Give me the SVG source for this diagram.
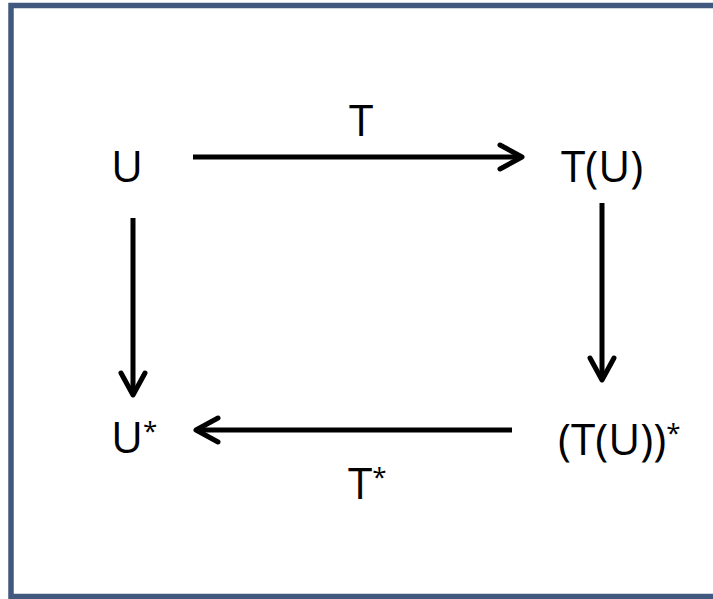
<svg xmlns="http://www.w3.org/2000/svg" width="713" height="599" viewBox="0 0 713 599">
<style>
.lbl{font-family:"Open Sans","Liberation Sans",sans-serif;font-size:44px;fill:#000}
.sup{font-size:26px}
.conn{stroke:#000;stroke-width:5;fill:none}
</style>
<defs>
<marker id="ah" markerUnits="userSpaceOnUse" markerWidth="40" markerHeight="40" refX="0" refY="0" orient="auto" overflow="visible" viewBox="-30 -20 40 40">
<path d="M -22 -12 L 0 0 L -22 12" fill="none" stroke="#000" stroke-width="5" stroke-linejoin="round" stroke-linecap="round"/>
</marker>
</defs>
<rect x="0" y="0" width="713" height="599" fill="#fff"/>
<rect x="11" y="5.5" width="710" height="591" fill="#fff" stroke="#41597f" stroke-width="5.5"/>
<g id="connectors">
<line class="conn" x1="193" y1="157" x2="522" y2="157" marker-end="url(#ah)"/>
<line class="conn" x1="602" y1="203" x2="602" y2="380" marker-end="url(#ah)"/>
<line class="conn" x1="512" y1="430" x2="196" y2="430" marker-end="url(#ah)"/>
<line class="conn" x1="133" y1="218" x2="133" y2="395" marker-end="url(#ah)"/>
</g>
<g id="node-U"><text class="lbl" x="111" y="182">U</text></g>
<g id="node-TU"><text class="lbl" x="561" y="182">T(U)</text></g>
<g id="node-Ustar"><text class="lbl" x="111" y="453">U<tspan class="sup" dy="-13">*</tspan></text></g>
<g id="node-TUstar"><text class="lbl" x="558" y="455">(T(U))<tspan class="sup" dy="-13">*</tspan></text></g>
<g id="label-T"><text class="lbl" x="349" y="136">T</text></g>
<g id="label-Tstar"><text class="lbl" x="348" y="499">T<tspan class="sup" dy="-13">*</tspan></text></g>
</svg>
